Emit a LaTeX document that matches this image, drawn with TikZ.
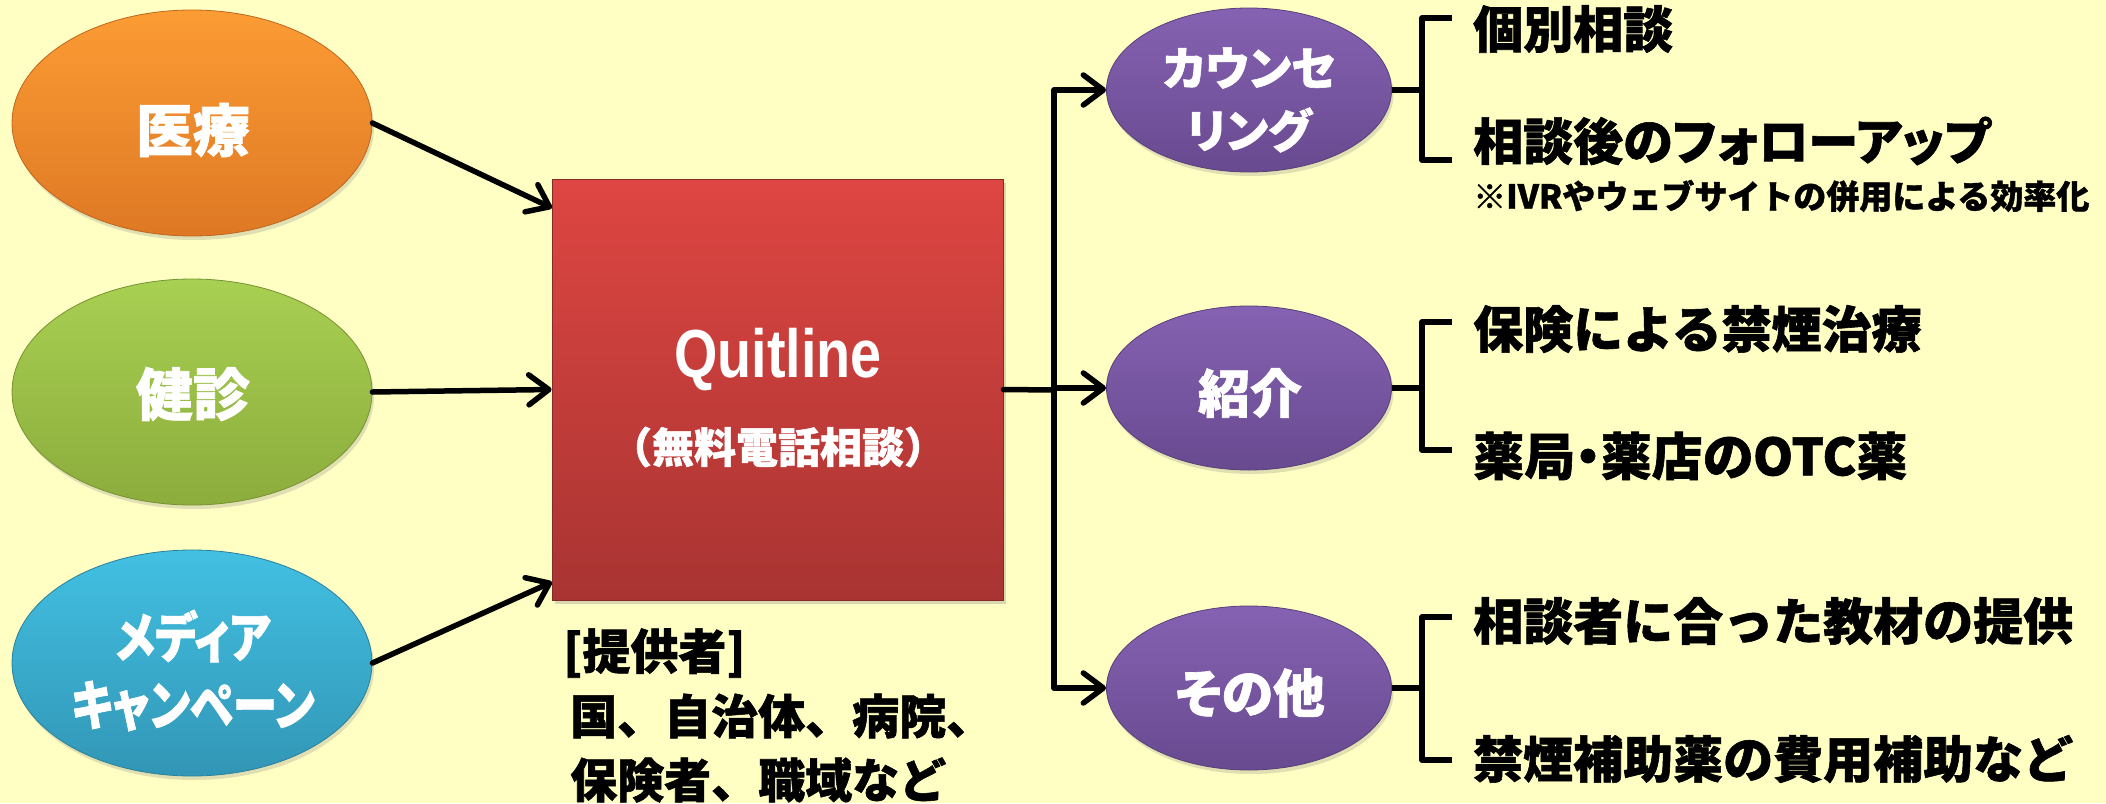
\documentclass[tikz,border=0pt]{standalone}
\usepackage{fontspec}
\setmainfont{Liberation Sans}
\newfontfamily\jp{Noto Sans CJK JP}[BoldFeatures={FakeBold=1.2}]
\newfontfamily\jpp{Noto Sans CJK JP}[RawFeature=+palt, BoldFeatures={FakeBold=1.2}]
\newfontfamily\jpc{Noto Sans CJK JP}[RawFeature=+palt, FakeStretch=0.82, BoldFeatures={FakeBold=1.2}]
\newfontfamily\qfont{Liberation Sans}[FakeStretch=0.82]
\usetikzlibrary{arrows.meta,shapes.geometric,shadows}
\definecolor{bg}{RGB}{255,255,196}
\definecolor{orT}{RGB}{252,156,52}
\definecolor{orB}{RGB}{222,120,36}
\definecolor{grT}{RGB}{168,208,82}
\definecolor{grB}{RGB}{140,172,60}
\definecolor{blT}{RGB}{66,192,226}
\definecolor{blB}{RGB}{50,150,182}
\definecolor{puT}{RGB}{134,98,178}
\definecolor{puB}{RGB}{104,74,144}
\definecolor{rdT}{RGB}{222,70,66}
\definecolor{rdB}{RGB}{168,52,50}
\tikzset{
  oval/.style={ellipse, inner sep=0pt, text=white, align=center,
    drop shadow={shadow xshift=2pt, shadow yshift=-4pt, opacity=0.25}},
  bigoval/.style={oval, minimum width=360pt, minimum height=226pt},
  puoval/.style={oval, minimum width=285pt, minimum height=164pt,
    top color=puT, bottom color=puB, draw=puB!85!black, line width=0.8pt},
  conn/.style={line width=5.5pt, line cap=round, line join=round},
  arr/.style={conn, -{Straight Barb[length=20pt, width=30pt, round]}},
  itemtxt/.style={anchor=west, inner sep=0pt, text=black,
    font=\jp\bfseries\fontsize{50}{56}\selectfont},
  wtxt/.style={inner sep=0pt, text=white},
  ptxt/.style={anchor=west, inner sep=0pt, font=\jp\bfseries\fontsize{47}{54}\selectfont},
}
\begin{document}
\begin{tikzpicture}[x=1pt,y=-1pt]
\fill[bg] (0,0) rectangle (2106,803);
\useasboundingbox (0,0) rectangle (2106,803);

% left ovals
\node[bigoval, top color=orT, bottom color=orB, draw=orB!85!black, line width=0.8pt] (e1) at (192,123) {};
\node[bigoval, top color=grT, bottom color=grB, draw=grB!85!black, line width=0.8pt] (e2) at (192,392) {};
\node[bigoval, top color=blT, bottom color=blB, draw=blB!85!black, line width=0.8pt] (e3) at (192,663) {};
\node[wtxt, font=\jp\bfseries\fontsize{57}{60}\selectfont] (l1) at (193,130) {医療};
\node[wtxt, font=\jp\bfseries\fontsize{57}{60}\selectfont] (l2) at (193,394) {健診};
\node[wtxt, font=\jpc\bfseries\fontsize{54}{60}\selectfont] (l3a) at (193,636) {メディア};
\node[wtxt, font=\jpc\bfseries\fontsize{54}{60}\selectfont] (l3b) at (193,706) {キャンペーン};

% central box
\node[rectangle, inner sep=0pt, minimum width=451pt, minimum height=421pt,
  top color=rdT, bottom color=rdB, draw=rdB!80!black, line width=0.8pt,
  drop shadow={shadow xshift=3pt, shadow yshift=-4pt, opacity=0.3}] (box) at (777.5,389.5) {};
\node[anchor=base, text=white, inner sep=0pt, font=\qfont\bfseries\fontsize{68}{72}\selectfont] (q) at (778,377) {Quitline};
\node[wtxt, font=\jp\bfseries\fontsize{42}{46}\selectfont] (q2) at (778,447) {（無料電話相談）};

% providers
\node[ptxt, font=\jpp\bfseries\fontsize{48}{54}\selectfont] (p1) at (563,653) {[提供者]};
\node[ptxt] (p2) at (570,716) {国、自治体、病院、};
\node[ptxt] (p3) at (570,780) {保険者、職域など};

% input arrows
\coordinate (in1) at (552,208);
\coordinate (in3) at (552,582);
\draw[arr] (e1.east) -- (in1);
\draw[arr] (e2.east) -- (box.west);
\draw[arr] (e3.east) -- (in3);

% right ovals
\node[puoval] (c1) at (1249,90) {};
\node[puoval] (c2) at (1249,388) {};
\node[puoval] (c3) at (1249,688) {};
\node[wtxt, font=\jpp\bfseries\fontsize{46}{50}\selectfont] (c1a) at (1249,68) {カウンセ};
\node[wtxt, font=\jpp\bfseries\fontsize{46}{50}\selectfont] (c1b) at (1249,130) {リング};
\node[wtxt, font=\jp\bfseries\fontsize{52}{58}\selectfont] (c2t) at (1250,393) {紹介};
\node[wtxt, font=\jpp\bfseries\fontsize{52}{58}\selectfont] (c3t) at (1250,693) {その他};

% output connectors
\coordinate (j) at (1054,390);
\draw[conn] (box.east) -- (j);
\draw[arr] (j) |- (c1.west);
\draw[arr] (j) |- (c2.west);
\draw[arr] (j) |- (c3.west);

% brackets
\coordinate (b1) at (1422,90);
\coordinate (b1t) at (1452,18);
\coordinate (b1b) at (1452,160);
\coordinate (b2) at (1422,388);
\coordinate (b2t) at (1452,322);
\coordinate (b2b) at (1452,450);
\coordinate (b3) at (1422,688);
\coordinate (b3t) at (1452,617);
\coordinate (b3b) at (1452,760);
\draw[conn, line cap=butt] (c1.east) -- (b1);
\draw[conn, line cap=butt] (c2.east) -- (b2);
\draw[conn, line cap=butt] (c3.east) -- (b3);
\draw[conn, line cap=butt] (b1t) -| (b1 |- b1b) -- (b1b);
\draw[conn, line cap=butt] (b2t) -| (b2 |- b2b) -- (b2b);
\draw[conn, line cap=butt] (b3t) -| (b3 |- b3b) -- (b3b);

% item texts
\node[itemtxt] (t1) at (1473,29) {個別相談};
\node[itemtxt, font=\jpp\bfseries\fontsize{50}{56}\selectfont] (t2) at (1473,141) {相談後のフォローアップ};
\node[itemtxt, font=\jp\bfseries\fontsize{33}{38}\selectfont] (t2b) at (1473,196) {※IVRやウェブサイトの併用による効率化};
\node[itemtxt] (t3) at (1473,329) {保険による禁煙治療};
\node[itemtxt, font=\jpp\bfseries\fontsize{51}{56}\selectfont] (t4) at (1473,456) {薬局・薬店のOTC薬};
\node[itemtxt] (t5) at (1473,621) {相談者に合った教材の提供};
\node[itemtxt] (t6) at (1473,759) {禁煙補助薬の費用補助など};
\end{tikzpicture}
\end{document}
